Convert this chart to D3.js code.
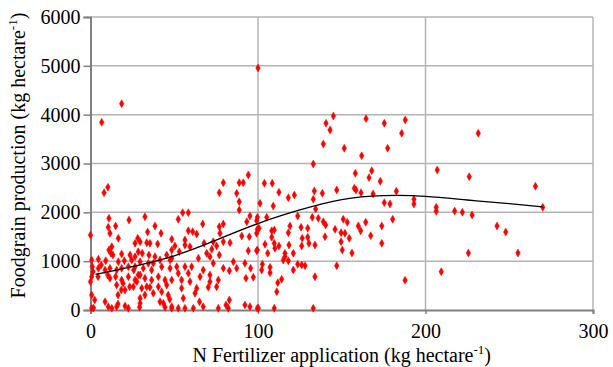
<!DOCTYPE html>
<html>
<head>
<meta charset="utf-8">
<script src="https://cdn.jsdelivr.net/npm/d3@7"></script>
<style>
  body { margin: 0; background: #fff; }
  svg text { font-family: "Liberation Serif", "Times New Roman", serif; }
</style>
</head>
<body>
<div id="chart"></div>
<script>
// N fertilizer (kg/ha) vs foodgrain production (kg/ha)
const lowN = [
  [11,1878],[32.5,1911],[23,1843],[10.6,1694],[15,1720],[38.5,1720],[0,1536],[11.6,1571],[34.1,1597],[42.1,1571],
  [16.6,1468],[28.2,1468],[26.6,1366],[29.6,1399],[33.6,1378],[35.5,1366],[40.1,1352],[12.7,1296],[11,1229],[12.2,1161],
  [18.6,1147],[23.6,1126],[28.5,1194],[26.6,1092],[30.9,1161],[34.9,1126],[38.5,1092],[45.5,1126],[48.5,1229],[0.7,1024],
  [4.7,1038],[9.1,1010],[16.6,989],[20.2,1010],[24.6,1024],[29.6,989],[34.5,956],[41.5,1024],[47.5,1024],[1.1,887],
  [4.7,854],[8.7,819],[11.6,854],[15.6,819],[18.6,854],[22.6,887],[26.6,887],[31.5,854],[36.5,819],[42.5,887],
  [47.5,854],[0.7,682],[0,580],[10.3,717],[11.6,649],[15,682],[18.6,614],[22.6,682],[26.6,614],[28.5,717],
  [32.5,649],[36.5,614],[40.5,682],[44.5,614],[15.6,512],[20.6,410],[25.6,477],[30.6,444],[35.5,465],[40.5,477],
  [45.5,512],[0.7,307],[32.5,307],[42.5,375],[8.7,170],[10.6,68],[12.7,35],[15.6,68],[20.6,82],[22.6,35],
  [0.7,35],[29.6,137],[43.5,137],[44.5,55],[48.5,35],[16.4,123],[29.3,55],[1.8,41],
  [6.4,922],[1.5,784],[4.5,682],[19.4,547],[18.4,410],[23.4,477],[16.4,307],[2.5,205],[13.4,1126],
  [37.5,956],[29.6,717],[27.6,580],[33.6,477],[37.5,342],[46.4,307],[29.6,240],[41.5,170],[25.8,819],
  [6.7,3844],[18.6,4225],[8.1,2402],[10.4,2513]
];

const midN = [
  [88.8,2218],[88.8,2048],[55,1993],[58.4,1993],[95.2,1925],[52.4,1858],[99.6,1898],[67,1761],[79.3,1761],[76.9,1706],
  [93.3,1808],[99.6,1653],[58.4,1624],[61,1604],[63.4,1556],[77.3,1571],[90.3,1516],[94.8,1501],[48.5,1448],[56.4,1434],
  [73.3,1399],[79.3,1399],[83.3,1378],[50.4,1311],[56.4,1331],[67.8,1366],[59.4,1296],[75.3,1311],[72.4,1243],[94.2,1214],
  [99.6,1229],[53,1194],[69.4,1161],[76.9,1126],[48.5,1059],[64.4,1059],[71.3,1092],[85.3,989],[92.2,956],[73.3,956],
  [51.5,887],[56.4,887],[60.4,887],[67.3,819],[79.3,854],[87.3,854],[95.6,854],[52.4,752],[58.4,752],[65.4,682],
  [71.3,717],[82.9,805],[48.5,614],[54.4,614],[59.4,580],[71.3,580],[76.3,614],[92.8,649],[97.2,670],[63.4,444],
  [54.4,444],[70.3,465],[75.3,477],[62.4,342],[55.4,240],[82.9,205],[48.5,68],[52.4,35],[56.4,35],[61.4,35],
  [67.3,68],[76.3,35],[82.3,35],[92.2,102],[95.2,68],[99.6,35],[47.3,219],[65.1,170],[80.9,102],
  [94.2,2765],[79.3,2607],[88.8,2607],[91.2,2607],[76.9,2402],[87.3,2390],[100,4956]
];

const highN = [
  [143,3686],[139,3400],[151.5,3312],[133,2990],[103.8,2595],[108.5,2595],[112.5,2410],[121.7,2355],[118.1,2300],[133.6,2437],
  [138.4,2390],[147,2458],[133,2267],[101.2,2185],[109.1,2130],[134.4,2068],[105.2,1898],[99.2,1829],[123.7,1925],[132.4,1898],
  [136,1878],[139,1808],[150.9,1858],[100.6,1673],[108.2,1624],[109.7,1638],[119.1,1720],[125.7,1694],[129.7,1673],[140.4,1741],
  [146,1653],[118.1,1583],[99.2,1571],[108.2,1489],[126.4,1468],[129.7,1489],[140,1501],[149.6,1583],[104.2,1346],[109.7,1366],
  [112.5,1311],[110.1,1264],[118.5,1331],[126.1,1311],[130.4,1366],[134,1331],[149.6,1399],[150.3,1229],[99.2,1214],[105.8,1161],
  [116.1,1161],[121.1,1161],[116.1,1092],[115.1,1024],[118.1,1010],[102.6,936],[107.2,875],[123.7,936],[126.1,922],[128.1,907],
  [147,907],[102.2,819],[107.2,764],[121.1,819],[114.1,629],[134,682],[111.8,559],[111.2,375],[100.2,35],[109.7,35],[133,35]
];

const veryHighN = [
  [145,3973],[140.6,3824],[164.5,3918],[175.4,3824],[187.9,3891],[185.8,3619],[177.4,3312],[161.9,3160],[231.5,3619],[207,2867],
  [226.1,2730],[265.6,2533],[158.1,2800],[167.9,2853],[166.3,2710],[173,2636],[157.5,2492],[158.5,2458],[161.5,2402],[168.7,2376],
  [182.6,2431],[175.4,2198],[178.8,2171],[193.1,2267],[193.1,2171],[206.4,2103],[206.4,2021],[217.4,2028],[222,2001],[227.8,1946],
  [270,2103],[153.3,1796],[164.3,1796],[159.9,1720],[173.9,1720],[180.4,1858],[161.3,1624],[151.9,1571],[154.5,1468],[167.3,1522],
  [173.9,1366],[156.1,1167],[242.7,1720],[247.9,1597],[225.6,1167],[255.2,1167],[209.4,784],[187.8,608]
];

// fitted trend line
const trendX = [3, 25, 50, 75, 100, 125, 150, 175, 200, 225, 250, 270];
const trendY = [730, 890, 1110, 1430, 1770, 2048, 2260, 2341, 2328, 2253, 2177, 2110];

const xTicks = [0, 100, 200, 300];
const yTicks = [0, 1000, 2000, 3000, 4000, 5000, 6000];

const width = 613, height = 367;
const margin = {top: 17, right: 20, bottom: 57, left: 90.5};
const serif = '"Liberation Serif", "Times New Roman", serif';

const svg = d3.select('#chart')
  .append('svg')
  .attr('width', width)
  .attr('height', height);

const x = d3.scaleLinear().domain([0, 300]).range([margin.left, 593]);
const y = d3.scaleLinear().domain([0, 6000]).range([310, margin.top]);

// grid
svg.append('g')
  .selectAll('line')
  .data(yTicks.filter(d => d > 0))
  .join('line')
  .attr('x1', x(0)).attr('x2', x(300))
  .attr('y1', d => y(d)).attr('y2', d => y(d))
  .attr('stroke', '#b3b3b3')
  .attr('stroke-width', 1.5);

svg.append('g')
  .selectAll('line')
  .data(xTicks.filter(d => d > 0))
  .join('line')
  .attr('x1', d => x(d)).attr('x2', d => x(d))
  .attr('y1', y(6000)).attr('y2', y(0))
  .attr('stroke', '#b3b3b3')
  .attr('stroke-width', 1.5);

// axes
const yAxis = svg.append('g')
  .attr('transform', `translate(${x(0)},0)`)
  .call(d3.axisLeft(y).tickValues(yTicks).tickFormat(d3.format('d')).tickSize(7).tickPadding(3));

const xAxis = svg.append('g')
  .attr('transform', `translate(0,${y(0)})`)
  .call(d3.axisBottom(x).tickValues(xTicks).tickFormat(d3.format('d')).tickSize(4).tickPadding(10));

[yAxis, xAxis].forEach(g => {
  g.attr('font-family', serif).attr('font-size', 20);
  g.select('.domain').attr('stroke', '#808080').attr('stroke-width', 2);
  g.selectAll('.tick line').attr('stroke', '#808080').attr('stroke-width', 1.5);
  g.selectAll('.tick text').attr('fill', '#000').style('font-family', serif);
});

// points
const allPoints = lowN.concat(midN, highN, veryHighN);
svg.append('g')
  .selectAll('path')
  .data(allPoints)
  .join('path')
  .attr('d', d3.symbol().type(d3.symbolDiamond).size(18))
  .attr('transform', d => `translate(${x(d[0])},${y(d[1])})`)
  .attr('fill', '#ff0000')
  .attr('stroke', '#ff0000')
  .attr('stroke-width', 0.5);

// trend line
const line = d3.line()
  .x((d, i) => x(trendX[i]))
  .y(d => y(d))
  .curve(d3.curveNatural);

svg.append('path')
  .datum(trendY)
  .attr('d', line)
  .attr('fill', 'none')
  .attr('stroke', '#000')
  .attr('stroke-width', 1.3);

// axis titles
const xt = svg.append('text')
  .attr('x', (x(0) + x(300)) / 2)
  .attr('y', 362)
  .attr('text-anchor', 'middle')
  .attr('font-family', serif)
  .attr('font-size', 20);
xt.append('tspan').text('N Fertilizer application (kg hectare');
xt.append('tspan').text('-1').attr('font-size', 13).attr('dy', -8);
xt.append('tspan').text(')').attr('dy', 8);

const yt = svg.append('text')
  .attr('transform', `translate(25,${(y(0) + y(6000)) / 2 - 8}) rotate(-90)`)
  .attr('text-anchor', 'middle')
  .attr('font-family', serif)
  .attr('font-size', 20);
yt.append('tspan').text('Foodgrain production (kg hectare');
yt.append('tspan').text('-1').attr('font-size', 13).attr('dy', -8);
yt.append('tspan').text(')').attr('dy', 8);
</script>
</body>
</html>
